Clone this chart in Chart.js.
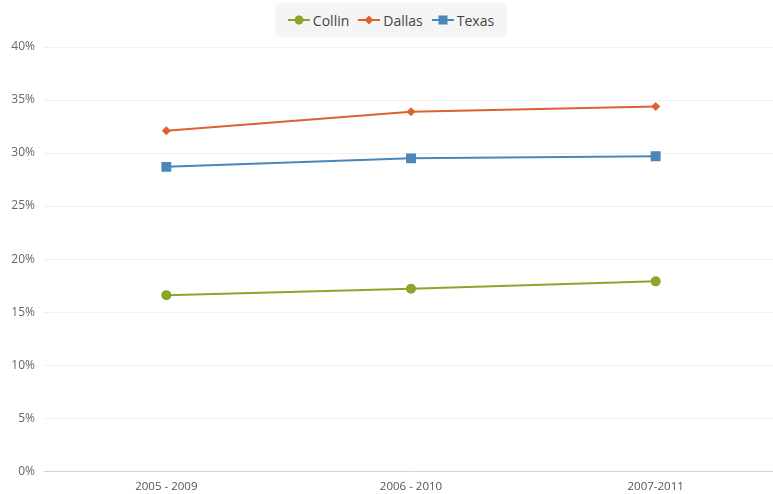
<!DOCTYPE html>
<html>
<head>
<meta charset="utf-8">
<script src="https://cdn.jsdelivr.net/npm/chart.js@4.4.1/dist/chart.umd.min.js"></script>
<style>
  html, body { margin: 0; padding: 0; background: #fff; overflow: hidden; }
  body { width: 773px; height: 494px; position: relative; font-family: "Open Sans", sans-serif; }
  #chart { position: absolute; left: 0; top: 0; }
  #legend {
    position: absolute; left: 275px; top: 3px; width: 232px; height: 34px;
    background: #f5f5f5; border-radius: 6px;
    display: flex; align-items: center; justify-content: center; gap: 9px;
    font-size: 14px; color: #444; z-index: 2;
  }
  #legend .item { display: flex; align-items: center; gap: 3px; }
  #legend svg { display: block; }
</style>
</head>
<body>
<div id="legend"></div>
<canvas id="chart" width="785" height="494"></canvas>
<script>
// Share of population, three overlapping ACS periods
const periods = ["2005 - 2009", "2006 - 2010", "2007-2011"];
const collin = [16.6, 17.2, 17.9];
const dallas = [32.1, 33.9, 34.4];
const texas = [28.7, 29.5, 29.7];

const yTicks = [0, 5, 10, 15, 20, 25, 30, 35, 40];

const series = [
  { name: "Collin", values: collin, color: "#8aa52c", style: "circle", radius: 5 },
  { name: "Dallas", values: dallas, color: "#de6130", style: "rectRot", radius: 4.5 },
  { name: "Texas", values: texas, color: "#4a86b9", style: "rect", radius: 7 }
];

// --- Legend (line + marker icon per series)
function legendIcon(s){
  let mark;
  if (s.style === "circle") mark = `<circle cx="11" cy="6" r="4.5" fill="${s.color}"/>`;
  else if (s.style === "rectRot") mark = `<polygon points="11,1.5 15.5,6 11,10.5 6.5,6" fill="${s.color}"/>`;
  else mark = `<rect x="6.5" y="1.5" width="9" height="9" fill="${s.color}"/>`;
  return `<svg width="22" height="12"><line x1="0" y1="6" x2="22" y2="6" stroke="${s.color}" stroke-width="2"/>${mark}</svg>`;
}
const elLegend = document.getElementById("legend");
for (const s of series){
  const div = document.createElement("div");
  div.className = "item";
  div.innerHTML = legendIcon(s) + `<span>${s.name}</span>`;
  elLegend.appendChild(div);
}

// --- Chart
new Chart(document.getElementById("chart"), {
  type: "line",
  data: {
    labels: periods,
    datasets: series.map(s => ({
      label: s.name,
      data: s.values,
      borderColor: s.color,
      backgroundColor: s.color,
      borderWidth: 2,
      tension: 0,
      pointStyle: s.style,
      pointRadius: s.radius,
      pointBorderWidth: 0,
      pointBackgroundColor: s.color
    }))
  },
  options: {
    responsive: false,
    animation: false,
    layout: { padding: { top: 47, right: 0, bottom: -9, left: 0 } },
    plugins: { legend: { display: false }, tooltip: { enabled: false } },
    scales: {
      x: {
        offset: true,
        grid: { display: false, drawTicks: false },
        border: { display: true, color: "#d4d4d4", width: 1 },
        ticks: { color: "#555", padding: 9, font: { family: "Open Sans", size: 11.5 } }
      },
      y: {
        min: 0,
        max: 40,
        afterBuildTicks: (scale) => { scale.ticks = yTicks.map(v => ({ value: v })); },
        afterFit: (scale) => { scale.width = 44; },
        grid: { color: "#f0f0f0", drawTicks: false },
        border: { display: false },
        ticks: {
          color: "#666",
          padding: 9,
          font: { family: "Open Sans", size: 12 },
          callback: (v) => v + "%"
        }
      }
    }
  }
});
</script>
</body>
</html>
